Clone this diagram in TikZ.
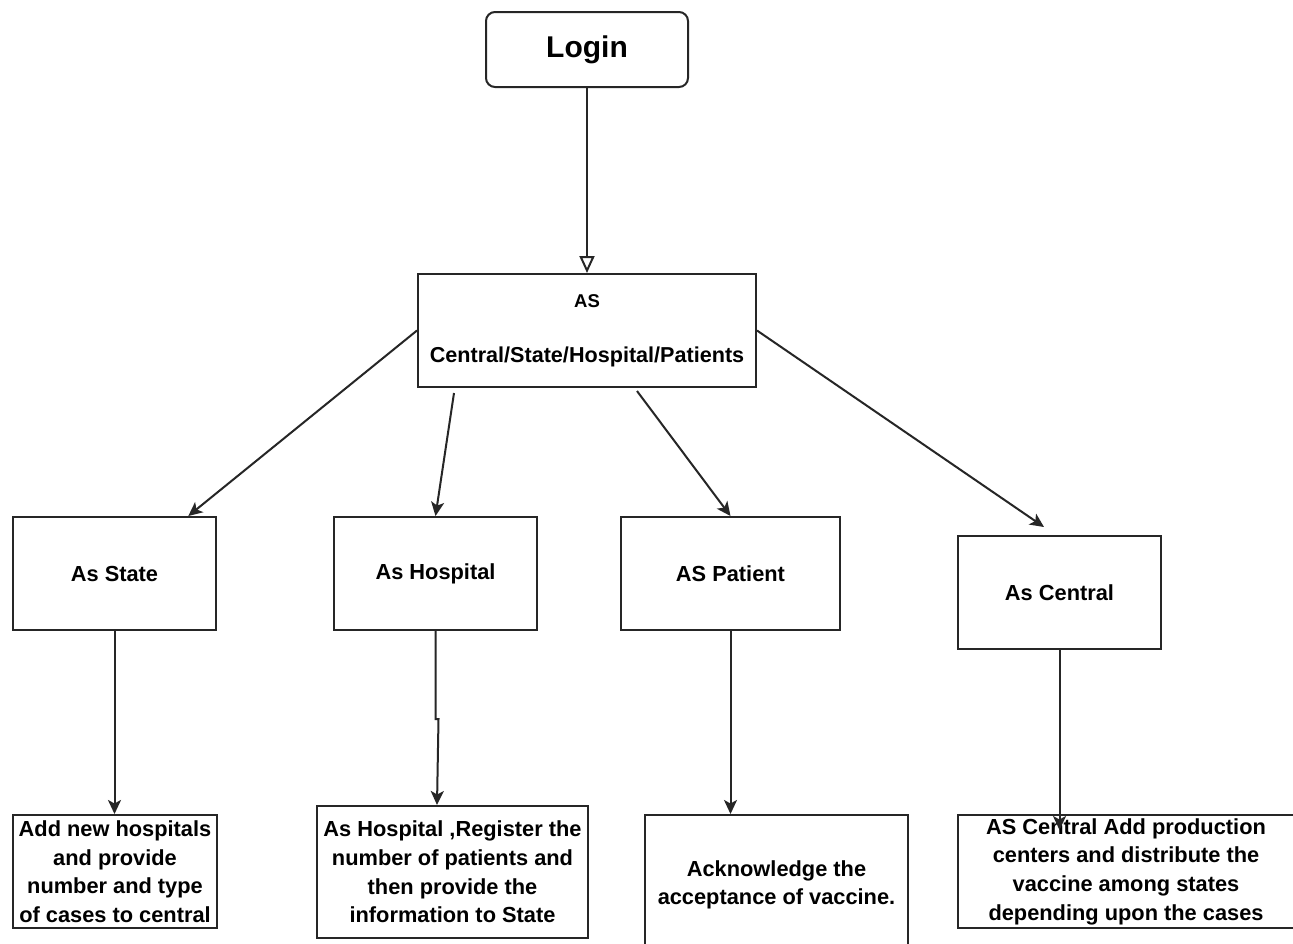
\documentclass[tikz,border=0pt]{standalone}
\usepackage{fontspec}
\setmainfont{Liberation Sans}
\usetikzlibrary{arrows.meta,calc}
\begin{document}
\begin{tikzpicture}[x=1pt,y=-1pt,
  box/.style={draw=black!85,line width=2pt,align=center,inner sep=0pt,
    font=\bfseries\fontsize{21.8}{28.6}\selectfont},
  conn/.style={draw=black!85,line width=2pt,-{Stealth[length=14pt,width=13pt,inset=3.5pt]}},
  openconn/.style={draw=black!85,line width=2pt,-{Triangle[open,length=17pt,width=15pt]}}]
\useasboundingbox (0,0) rectangle (1293,943);
\fill[white] (0,0) rectangle (1293,943);
\node[box,rounded corners=9pt,minimum width=202pt,minimum height=75pt,
  font=\bfseries\fontsize{30}{32}\selectfont] (login) at (587,49.5) {\raisebox{-2pt}{Login}};
\node[box,minimum width=338pt,minimum height=113pt,
  font=\bfseries\fontsize{21.6}{55}\selectfont] (mid) at (587,330.5)
  {\raisebox{-3pt}{\fontsize{18.5}{55}\selectfont AS}\\\raisebox{-3pt}{Central/State/Hospital/Patients}};
\node[box,minimum width=203pt,minimum height=113pt] (state) at (114.5,573.5) {As State};
\node[box,minimum width=203pt,minimum height=113pt] (hosp) at (435.5,573.5) {As Hospital};
\node[box,minimum width=219pt,minimum height=113pt] (pat) at (730.5,573.5) {AS Patient};
\node[box,minimum width=203pt,minimum height=113pt] (cent) at (1059.5,592.5) {As Central};
\node[box,minimum width=204pt,minimum height=113pt] (b1) at (115,871.5)
  {Add new hospitals\\and provide\\number and type\\of cases to central};
\node[box,minimum width=271pt,minimum height=132pt] (b2) at (452.5,872)
  {As Hospital ,Register the\\number of patients and\\then provide the\\information to State};
\node[box,minimum width=263pt,minimum height=140pt] (b3) at (776.5,885)
  {Acknowledge the\\acceptance of vaccine.};
\node[box,minimum width=336pt,minimum height=113pt] (b4) at (1126,871.5)
  {AS Central Add production\\centers and distribute the\\vaccine among states\\depending upon the cases};
\coordinate (centend) at ($(cent.south)+(0,180)$);
\draw[openconn] (login.south) -- (mid.north);
\draw[conn] (mid.west) -- ($(state.north west)!0.86!(state.north east)$);
\draw[conn] ($(mid.south west)+(37,5)$) -- (hosp.north);
\draw[conn] ($(mid.south)+(50,3)$) -- (pat.north);
\draw[conn] (mid.east) -- ($(cent.north)+(-15.5,-8)$);
\draw[conn] (state.south) -- (state.south |- b1.north);
\draw[conn] (hosp.south) -- ++(0,88) -- ++(3,0) -- ($(b2.north west)+(121,0)$);
\draw[conn] (pat.south) -- (pat.south |- b3.north);
\draw[conn] (cent.south) -- (centend);
\end{tikzpicture}
\end{document}
